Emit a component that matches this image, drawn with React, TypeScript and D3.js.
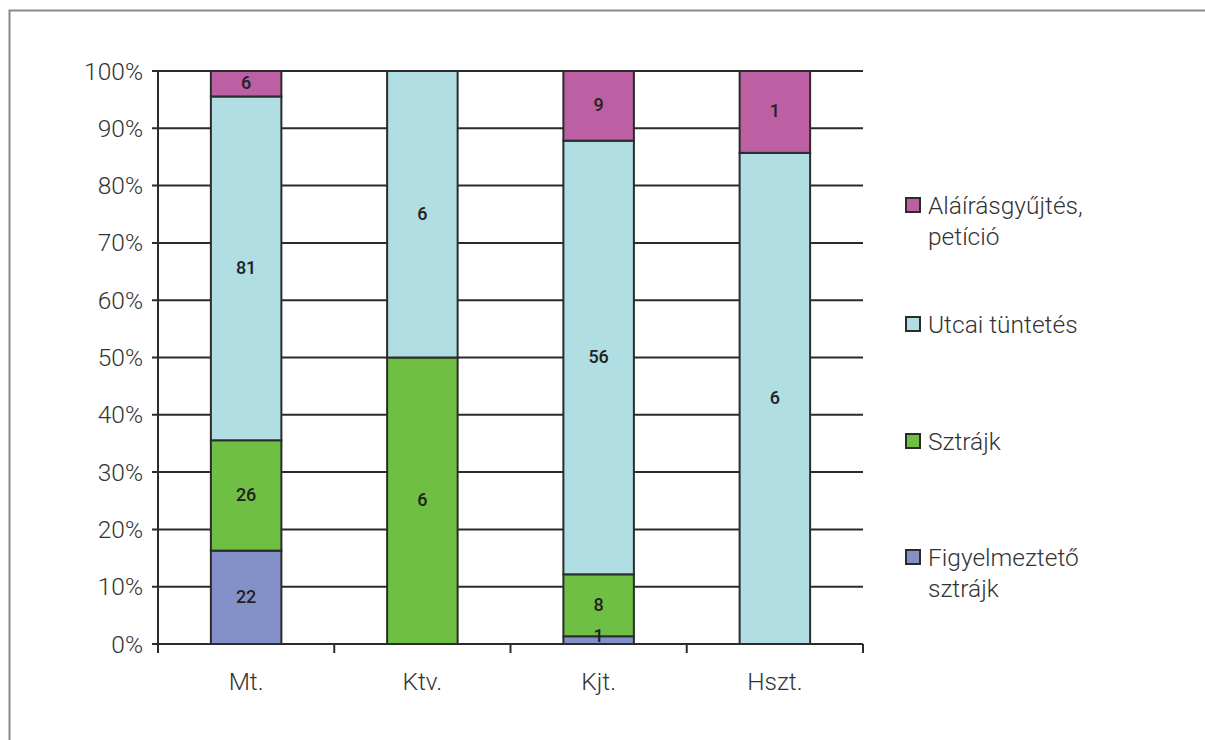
import React from "react";
import * as d3 from "d3";

const categories = ["Mt.", "Ktv.", "Kjt.", "Hszt."];
const seriesNames = ["Figyelmeztető sztrájk", "Sztrájk", "Utcai tüntetés", "Aláírásgyűjtés, petíció"];
const legendLines = [["Figyelmeztető", "sztrájk"], ["Sztrájk"], ["Utcai tüntetés"], ["Aláírásgyűjtés,", "petíció"]];
const figyelmezteto = [22, 0, 1, 0];
const sztrajk = [26, 6, 8, 0];
const utcai = [81, 6, 56, 6];
const alairas = [6, 0, 9, 1];
const colors = ["#8391C8", "#6FBF44", "#B0DEE3", "#BC5FA3"];
const yTicks = [0, 0.1, 0.2, 0.3, 0.4, 0.5, 0.6, 0.7, 0.8, 0.9, 1];

const W = 1205;
const H = 740;
const FONT = "Roboto, 'Noto Sans', sans-serif";
const DARK = "#2b2b2b";

export default function App() {
  const seriesValues = [figyelmezteto, sztrajk, utcai, alairas];
  const rows = categories.map((c, i) => {
    const r: any = { cat: c };
    seriesNames.forEach((s, k) => (r[s] = seriesValues[k][i]));
    return r;
  });
  const stacked = d3.stack<any>().keys(seriesNames).offset(d3.stackOffsetExpand)(rows);

  const x = d3.scaleBand<string>().domain(categories).range([158, 863]).paddingInner(0.6).paddingOuter(0.3);
  const y = d3.scaleLinear().domain([0, 1]).range([644, 71]);
  const step = x.step();
  const boundaries = d3.range(categories.length + 1).map((i) => 158 + i * step);
  const fmt = d3.format(".0%");

  const legendY = [557, 441, 324, 205];

  return (
    <svg width={W} height={H} style={{ position: "absolute", left: 0, top: 0 }} fontFamily={FONT}>
      <rect x={0} y={0} width={W} height={H} fill="#fff" />
      <path d={`M9.5,${H} V10.5 H${W}`} fill="none" stroke="#8a8a8a" strokeWidth={2} />

      {yTicks.map((t) => (
        <g key={t}>
          <line x1={152} x2={863} y1={y(t)} y2={y(t)} stroke={DARK} strokeWidth={2} />
          <text x={143} y={y(t)} dy="0.35em" textAnchor="end" fontSize={24.5} fontWeight={300} fill="#333">
            {fmt(t)}
          </text>
        </g>
      ))}
      <line x1={158} x2={158} y1={y(1)} y2={653} stroke={DARK} strokeWidth={2} />
      {boundaries.slice(1).map((b) => (
        <line key={b} x1={b} x2={b} y1={644} y2={653} stroke={DARK} strokeWidth={2} />
      ))}

      {stacked.map((layer, k) => (
        <g key={layer.key}>
          {layer.map((d, i) => {
            const v = seriesValues[k][i];
            if (!v) return null;
            const y0 = y(d[0]);
            const y1 = y(d[1]);
            return (
              <rect
                key={i}
                x={x(categories[i])!}
                y={y1}
                width={x.bandwidth()}
                height={y0 - y1}
                fill={colors[k]}
                stroke={DARK}
                strokeWidth={2}
              />
            );
          })}
        </g>
      ))}
      {stacked.map((layer, k) => (
        <g key={"l" + layer.key}>
          {layer.map((d, i) => {
            const v = seriesValues[k][i];
            if (!v) return null;
            const y0 = y(d[0]);
            const y1 = y(d[1]);
            const cy = Math.min((y0 + y1) / 2 - 1, y0 - 8);
            return (
              <text
                key={i}
                x={x(categories[i])! + x.bandwidth() / 2}
                y={cy}
                dy="0.35em"
                textAnchor="middle"
                fontSize={18}
                fontWeight={500}
                fill="#222"
              >
                {v}
              </text>
            );
          })}
        </g>
      ))}

      {categories.map((c) => (
        <text key={c} x={x(c)! + x.bandwidth() / 2} y={681} dy="0.35em" textAnchor="middle" fontSize={24.5} fontWeight={300} fill="#333">
          {c}
        </text>
      ))}

      {seriesNames.map((s, k) => (
        <g key={s}>
          <rect x={906} y={legendY[k] - 7} width={14} height={14} fill={colors[k]} stroke={DARK} strokeWidth={2} />
          {legendLines[k].map((ln, j) => (
            <text key={j} x={928} y={legendY[k] + j * 31} dy="0.35em" fontSize={24.5} fontWeight={300} fill="#333">
              {ln}
            </text>
          ))}
        </g>
      ))}
    </svg>
  );
}
